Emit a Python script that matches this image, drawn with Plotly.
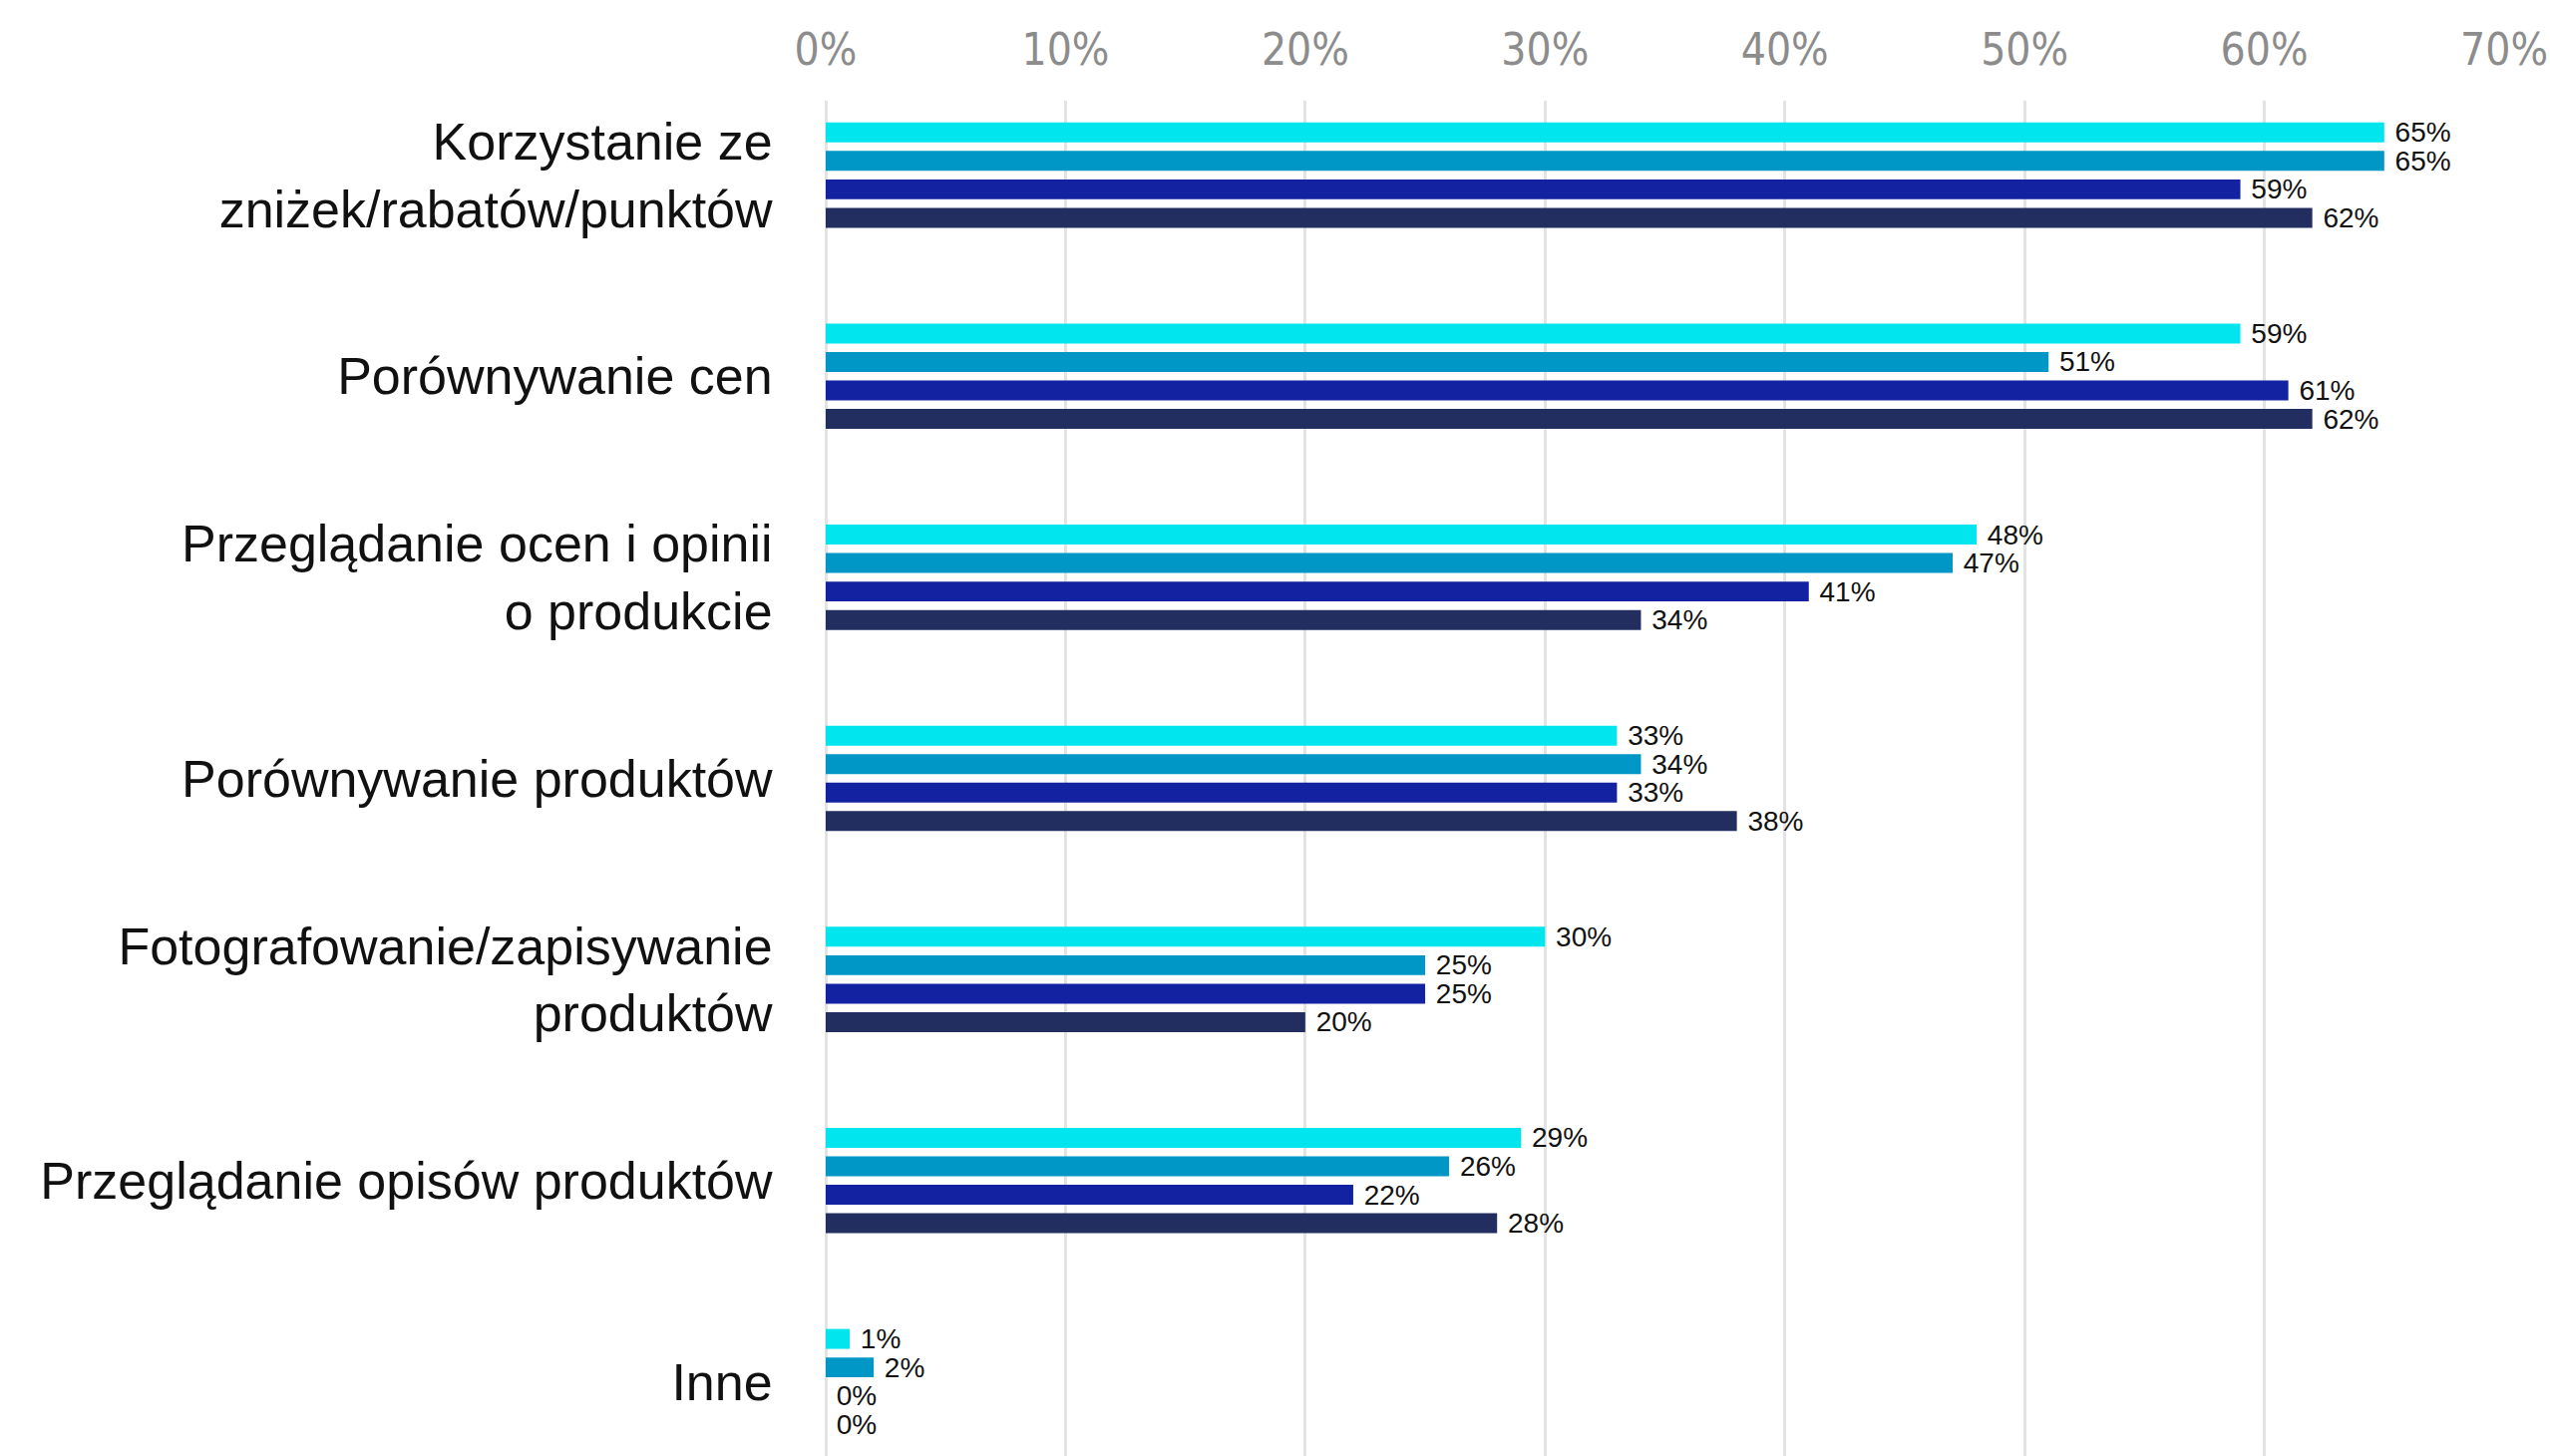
import plotly.graph_objects as go

# Activities (category axis, top to bottom)
categories = [
    "Korzystanie ze<br>zniżek/rabatów/punktów",
    "Porównywanie cen",
    "Przeglądanie ocen i opinii<br>o produkcie",
    "Porównywanie produktów",
    "Fotografowanie/zapisywanie<br>produktów",
    "Przeglądanie opisów produktów",
    "Inne",
]

# Share of respondents (%) for each of the four series
series_1 = [65, 59, 48, 33, 30, 29, 1]
series_2 = [65, 51, 47, 34, 25, 26, 2]
series_3 = [59, 61, 41, 33, 25, 22, 0]
series_4 = [62, 62, 34, 38, 20, 28, 0]

series_names = ["Seria 1", "Seria 2", "Seria 3", "Seria 4"]
series_colors = ["#00E5EE", "#0097C7", "#1222A0", "#222E60"]

x_ticks = [0, 10, 20, 30, 40, 50, 60, 70]
x_tick_labels = [f"{t}%" for t in x_ticks]

fig = go.Figure()
for name, values, color in zip(series_names,
                               [series_1, series_2, series_3, series_4],
                               series_colors):
    fig.add_trace(go.Bar(
        y=categories,
        x=values,
        name=name,
        orientation="h",
        marker=dict(color=color, line=dict(width=0)),
        # a non-breaking space keeps the value label slightly off the bar end
        text=[f"\u00a0{v}%" for v in values],
        textposition="outside",
        constraintext="none",
        textfont=dict(family="Liberation Sans, Arial, sans-serif", size=28, color="#111111"),
        cliponaxis=False,
    ))

n_cat = len(categories)
fig.update_layout(
    width=2557,
    height=1460,
    margin=dict(l=828, r=46, t=101, b=0),
    paper_bgcolor="white",
    plot_bgcolor="white",
    barmode="group",
    bargap=0.434,
    bargroupgap=0.3,
    showlegend=False,
    xaxis=dict(
        side="top",
        range=[0, 70],
        tickmode="array",
        tickvals=x_ticks,
        ticktext=x_tick_labels,
        showgrid=True,
        gridcolor="#E3E3E3",
        gridwidth=3,
        zeroline=True,
        zerolinecolor="#E3E3E3",
        zerolinewidth=3,
        showline=False,
        ticks="outside",
        ticklen=17,
        tickcolor="rgba(0,0,0,0)",
        tickfont=dict(family="Liberation Sans Narrow, DejaVu Sans Condensed, sans-serif",
                      size=44, color="#8C8C8C"),
    ),
    yaxis=dict(
        categoryorder="array",
        categoryarray=categories,
        range=[n_cat - 1 + 0.37, -0.37],
        showgrid=False,
        zeroline=False,
        showline=False,
        ticks="outside",
        ticklen=42,
        tickcolor="rgba(0,0,0,0)",
        tickfont=dict(family="Liberation Sans, Arial, sans-serif", size=52, color="#111111"),
    ),
)

fig.write_html("out.html")
